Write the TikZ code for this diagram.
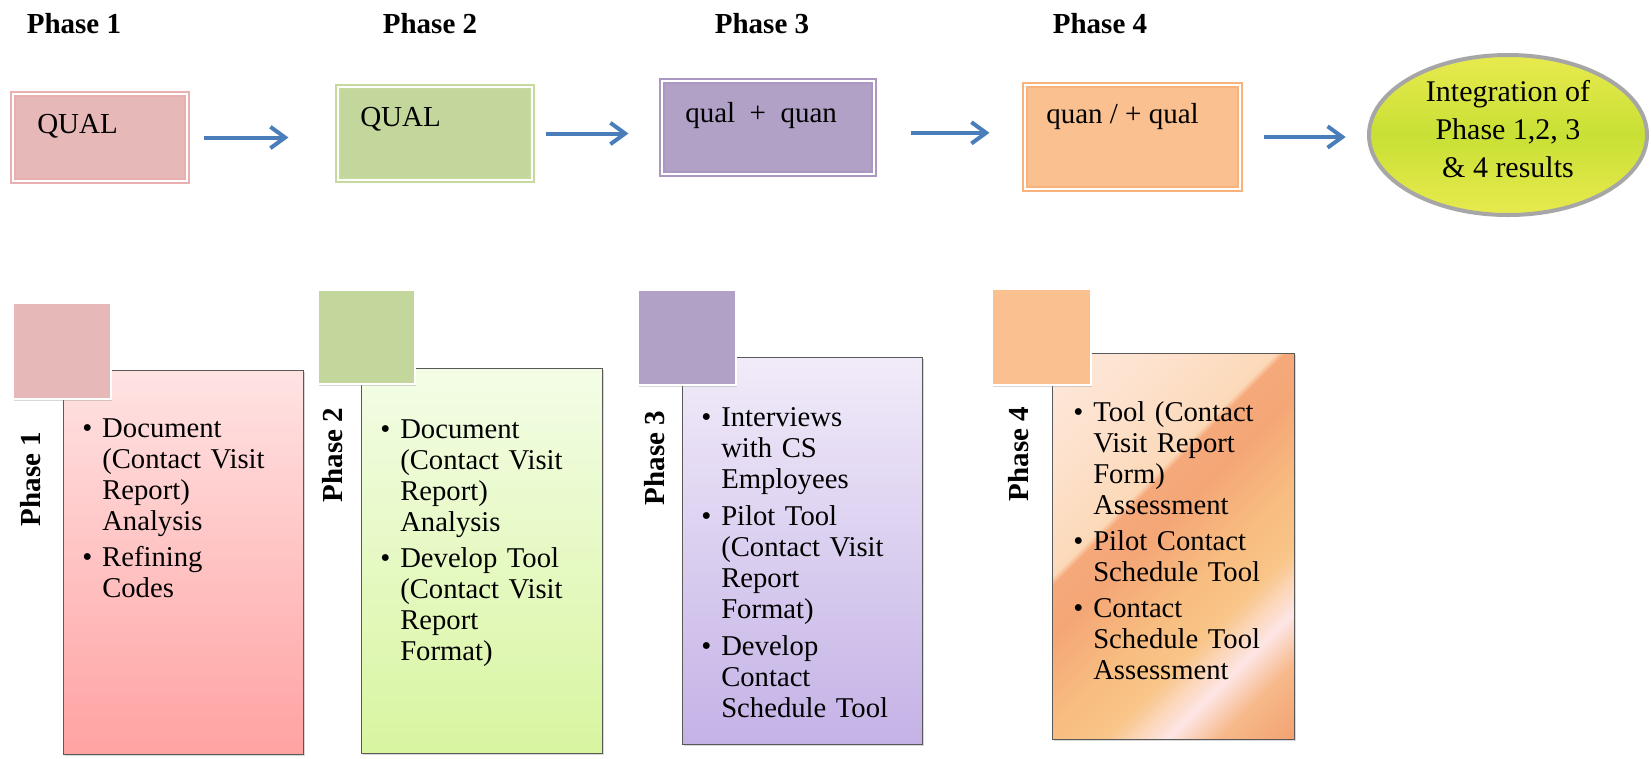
\documentclass[tikz,border=0pt]{standalone}
\usepackage{fontspec}
\setmainfont{Liberation Serif}
\usetikzlibrary{arrows.meta,shapes.geometric,shadows,calc}

\definecolor{c1}{HTML}{E6B9B8}
\definecolor{c1b}{HTML}{E8B0AF}
\definecolor{c2}{HTML}{C3D69B}
\definecolor{c2b}{HTML}{C6DA9E}
\definecolor{c3}{HTML}{B2A1C7}
\definecolor{c3b}{HTML}{AA98C2}
\definecolor{c4}{HTML}{FAC090}
\definecolor{c4b}{HTML}{F8B27C}
\definecolor{arrowblue}{HTML}{4A7EBB}
\definecolor{ellgray}{HTML}{A6A6A6}
\definecolor{ellmid}{HTML}{C9E035}
\definecolor{elledge}{HTML}{E8EA4E}
\definecolor{g1top}{HTML}{FFE3E3}
\definecolor{g1bot}{HTML}{FFA2A2}
\definecolor{g2top}{HTML}{F3FDE6}
\definecolor{g2bot}{HTML}{D8F5A0}
\definecolor{g3top}{HTML}{F1EBF9}
\definecolor{g3bot}{HTML}{C4B2E6}
\definecolor{panelline}{HTML}{595959}
\definecolor{p4a}{HTML}{FDE9DC}
\definecolor{p4b}{HTML}{FDE1CC}
\definecolor{p4c}{HTML}{FCD9B8}
\definecolor{p4d}{HTML}{F5A97A}
\definecolor{p4e}{HTML}{F4A676}
\definecolor{p4f}{HTML}{F8BD80}
\definecolor{p4g}{HTML}{F9C588}
\definecolor{p4h}{HTML}{FDE6E6}
\definecolor{p4i}{HTML}{F7B98A}
\definecolor{p4j}{HTML}{F3A272}

\pgfdeclarehorizontalshading{peachstreak}{100bp}{color(0bp)=(p4a); color(14.6bp)=(p4a); color(28.8bp)=(p4b); color(39.8bp)=(p4c); color(40.8bp)=(p4d); color(46.5bp)=(p4e); color(57bp)=(p4f); color(64bp)=(p4g); color(71.2bp)=(p4h); color(77bp)=(p4i); color(85.4bp)=(p4j); color(100bp)=(p4j)}

\newcommand\bitem[1]{\par\noindent\hangindent=15pt\hangafter=1\makebox[15pt][l]{\textbullet}\strut#1}

\tikzset{
  toptitle/.style={font=\fontsize{21.75}{26}\selectfont\bfseries, inner sep=0pt, anchor=base},
  topbox/.style={rectangle, draw=#1, double=white, double distance=2.2pt, line width=0.8pt, inner sep=0pt},
  toptext/.style={font=\fontsize{21.75}{26}\selectfont, inner sep=0pt, anchor=base west},
  flow/.style={draw=arrowblue, line width=3pt, -{Straight Barb[length=11pt,width=16pt]}},
  tab/.style={rectangle, draw=white, line width=1.5pt, fill=#1, inner sep=0pt,
    drop shadow={opacity=0.3, shadow xshift=1pt, shadow yshift=-1.5pt}},
  panel/.style={rectangle, draw=panelline, line width=0.6pt, inner sep=0pt,
    drop shadow={opacity=0.3, shadow xshift=1.5pt, shadow yshift=-1.5pt}},
  vtitle/.style={rotate=90, font=\fontsize{21.75}{26}\selectfont\bfseries, inner sep=0pt},
  blist/.style={anchor=north west, inner sep=0pt, text width=170pt, align=left,
    font=\fontsize{21.5}{23.25}\selectfont},
}

\begin{document}
\begin{tikzpicture}[x=0.75pt,y=-0.75pt]
\useasboundingbox (0,0) rectangle (1651,758);
\fill[white] (0,0) rectangle (1651,758);

% ---- top titles
\node[toptitle] (t1) at (74,33) {Phase 1};
\node[toptitle] (t2) at (430,33) {Phase 2};
\node[toptitle] (t3) at (762,33) {Phase 3};
\node[toptitle] (t4) at (1100,33) {Phase 4};

% ---- top boxes
\node[topbox=c1b, fill=c1, minimum width=130.5pt, minimum height=65.25pt] (box1) at (100,137.5) {};
\node[topbox=c2b, fill=c2, minimum width=145.5pt, minimum height=69.75pt] (box2) at (435,133.5) {};
\node[topbox=c3b, fill=c3, minimum width=159pt, minimum height=69.75pt] (box3) at (768,127.5) {};
\node[topbox=c4b, fill=c4, minimum width=161.25pt, minimum height=78pt] (box4) at (1132.5,137) {};

\node[toptext] (q1) at (37,133) {QUAL};
\node[toptext] (q2) at (360,126) {QUAL};
\node[toptext] (q3) at (685,122) {qual\ \ +\ \ quan};
\node[toptext] (q4) at (1046,123) {quan / + qual};

% ---- ellipse
\node[ellipse, draw=ellgray, line width=3pt, top color=elledge, bottom color=elledge, middle color=ellmid,
      minimum width=208.5pt, minimum height=120pt, inner sep=0pt] (ell) at (1508,135) {};
\node[align=center, inner sep=0pt, font=\fontsize{22.5}{28.5}\selectfont] (ellt) at (1508,129)
      {Integration of\\Phase 1,2, 3\\\& 4 results};

% ---- arrows
\draw[flow, shorten <=12pt, shorten >=36.75pt] (box1.east) -- (box1.east -| box2.west);
\draw[flow, shorten <=9.75pt, shorten >=24.75pt] (box2.east) -- (box2.east -| box3.west);
\coordinate (a3) at ([yshift=-4pt]box3.east);
\draw[flow, shorten <=27pt, shorten >=26.25pt] (a3) -- (a3 -| box4.west);
\draw[flow, shorten <=17.25pt, shorten >=16pt] (box4.east) -- (box4.east -| ell.west);

% ---- bottom panels
\node[panel, top color=g1top, bottom color=g1bot, minimum width=180pt, minimum height=288pt] (B1) at (183,562) {};
\node[panel, top color=g2top, bottom color=g2bot, minimum width=180.75pt, minimum height=288.75pt] (B2) at (481.5,560.5) {};
\node[panel, top color=g3top, bottom color=g3bot, minimum width=180pt, minimum height=290.25pt] (B3) at (802,550.5) {};
\node[panel, shading=peachstreak, shading angle=-45, minimum width=181.5pt, minimum height=289.5pt] (B4) at (1173,546) {};

% ---- tabs
\node[tab=c1, minimum width=73.5pt, minimum height=72pt] (S1) at (62,351) {};
\node[tab=c2, minimum width=72.75pt, minimum height=70.5pt] (S2) at (366.5,337) {};
\node[tab=c3, minimum width=73.5pt, minimum height=71.25pt] (S3) at (687,337.5) {};
\node[tab=c4, minimum width=74.25pt, minimum height=72pt] (S4) at (1041.5,337) {};

% ---- vertical titles
\node[vtitle] (v1) at (31,479) {Phase 1};
\node[vtitle] (v2) at (333,455) {Phase 2};
\node[vtitle] (v3) at (655,458) {Phase 3};
\node[vtitle] (v4) at (1019,454) {Phase 4};

% ---- bullet lists
\node[blist] (L1) at (82,402) {\setlength{\parskip}{3.4pt}%
\bitem{Document\newline (Contact Visit\newline Report)\newline Analysis}
\bitem{Refining\newline Codes}\par};

\node[blist] (L2) at (380,403) {\setlength{\parskip}{3.4pt}%
\bitem{Document\newline (Contact Visit\newline Report)\newline Analysis}
\bitem{Develop Tool\newline (Contact Visit\newline Report\newline Format)}\par};

\node[blist] (L3) at (701,390) {\setlength{\parskip}{4.2pt}%
\bitem{Interviews\newline with CS\newline Employees}
\bitem{Pilot Tool\newline (Contact Visit\newline Report\newline Format)}
\bitem{Develop\newline Contact\newline Schedule Tool}\par};

\node[blist] (L4) at (1073,385) {\setlength{\parskip}{3.8pt}%
\bitem{Tool (Contact\newline Visit Report\newline Form)\newline Assessment}
\bitem{Pilot Contact\newline Schedule Tool}
\bitem{Contact\newline Schedule Tool\newline Assessment}\par};
\end{tikzpicture}
\end{document}
